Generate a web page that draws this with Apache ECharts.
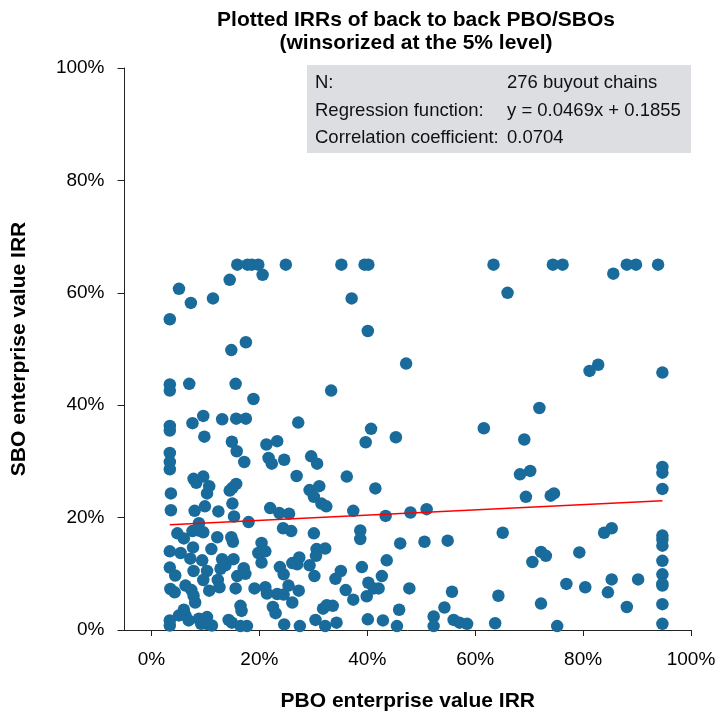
<!DOCTYPE html>
<html>
<head>
<meta charset="utf-8">
<script src="https://cdn.jsdelivr.net/npm/echarts@6/dist/echarts.min.js"></script>
<style>
html,body{margin:0;padding:0;background:#fff;}
#chart{width:720px;height:717px;}
</style>
</head>
<body>
<div id="chart"></div>
<script>
// PBO enterprise value IRR (%), x values
const pboIrr = [
  15.9,17.8,18.6,19.8,24.9,20.6,14.5,5.1,7.3,11.4,
  3.4,17.5,14.8,3.4,3.4,7.0,15.6,35.2,39.5,40.2,
  63.4,66.0,37.1,40.1,47.2,33.3,40.7,39.7,45.3,61.6,
  36.2,41.5,37.4,43.4,48.0,51.0,74.4,76.2,88.1,89.8,
  93.9,85.6,82.8,81.2,94.7,71.9,69.1,68.3,70.2,94.7,
  94.7,94.7,69.4,74.0,74.6,
  18.9,9.6,7.6,13.1,15.7,17.5,27.2,3.4,3.4,9.8,
  14.9,15.8,17.2,21.3,23.3,21.7,22.3,24.6,29.6,30.7,
  3.4,3.4,3.4,26.9,7.8,8.3,9.6,10.7,10.3,15.7,
  15.0,14.5,29.3,31.1,30.1,3.6,3.6,8.0,9.9,12.4,
  15.0,15.3,22.0,23.7,25.5,31.5,32.4,
  18.0,8.8,4.8,6.0,7.6,8.8,9.6,12.2,14.8,15.1,
  24.4,25.9,30.1,3.4,5.4,7.7,11.1,20.4,19.8,21.1,
  20.4,30.6,32.2,30.5,7.2,9.4,13.1,15.2,3.4,4.4,
  7.8,10.3,9.6,12.8,13.7,17.1,17.4,15.9,12.3,12.6,
  23.8,24.5,26.1,27.4,27.0,29.3,30.2,3.5,
  4.3,6.3,7.4,7.8,8.1,10.7,15.6,19.1,21.1,21.4,
  23.3,24.5,25.4,27.3,26.1,16.5,16.7,22.5,23.0,6.0,
  5.1,6.3,6.9,3.4,3.4,8.8,9.2,10.3,10.2,11.2,
  14.3,14.9,16.5,17.7,24.6,27.5,30.4,31.8,32.5,32.2,
  38.7,38.7,46.1,50.6,54.9,65.1,43.6,39.0,35.1,34.1,
  42.7,40.2,41.2,42.1,36.0,37.4,39.9,47.8,55.7,64.3,
  33.6,45.9,54.3,34.3,40.1,42.9,45.5,52.3,52.3,56.0,
  57.1,58.5,63.7,
  83.9,85.3,94.7,94.7,94.7,72.2,73.1,70.6,79.3,94.7,
  85.3,90.2,94.7,94.7,76.9,80.4,84.6,72.2,88.1,94.7,
  75.2,94.7,94.7
];
// SBO enterprise value IRR (%), y values
const sboIrr = [
  65,65,65,65,65,63.2,62.3,60.7,58.2,59.0,
  55.3,51.2,49.8,43.7,42.6,43.8,43.8,65,65,65,
  65,60.0,59.0,53.2,47.4,42.6,35.8,33.4,34.3,35.9,
  27.3,25.2,21.2,20.3,20.9,21.5,65,65,65,65,
  65,63.4,47.2,46.1,45.8,39.5,33.9,27.7,28.3,29.0,
  28.0,25.1,23.7,23.9,24.3,
  41.1,38.1,36.8,37.5,37.6,37.6,36.9,36.3,35.5,34.4,
  33.5,31.8,29.9,33.0,33.6,30.6,29.6,30.3,30.9,29.6,
  31.5,29.9,28.6,27.4,26.9,26.2,27.3,25.6,24.3,26.0,
  25.3,24.8,24.9,25.6,23.7,24.3,21.3,21.2,22.0,21.1,
  22.5,20.2,21.7,20.8,20.7,22.5,22.0,
  19.2,19.0,17.2,16.3,17.6,17.7,17.4,16.5,16.5,15.7,
  18.1,17.6,17.2,14.0,13.7,14.7,14.4,15.5,13.7,14.0,
  12.0,14.4,14.5,13.2,12.7,12.4,12.6,12.6,11.1,9.7,
  10.5,10.5,8.9,10.9,11.5,11.0,10.0,9.6,8.9,7.6,
  11.2,9.9,11.9,12.9,11.7,11.5,9.6,7.3,
  6.7,7.9,7.1,6.1,4.9,7.0,7.4,7.4,7.6,6.5,
  6.4,6.3,7.9,7.0,4.9,4.3,3.4,4.1,3.0,3.6,
  2.6,2.6,1.7,1.7,0.8,2.0,1.1,2.3,1.1,0.8,
  1.8,1.3,0.7,0.7,1.0,0.7,1.8,3.8,4.4,0.7,
  17.7,16.2,15.4,15.7,15.9,17.3,12.4,11.2,10.5,9.1,
  9.6,8.4,7.4,7.4,7.1,5.4,6.0,7.4,6.8,6.1,
  4.3,3.6,4.0,1.3,1.9,1.7,0.7,2.4,0.7,1.8,
  1.3,1.1,1.2,
  17.3,18.1,16.8,16.1,15.0,13.9,13.2,12.1,13.8,12.3,
  9.0,9.0,9.9,8.2,8.2,7.6,6.7,4.7,4.1,4.6,
  0.7,1.1,7.9
];
const xTicks = [0, 20, 40, 60, 80, 100];
const yTicks = [0, 20, 40, 60, 80, 100];
const regSlope = 0.0469;
const regIntercept = 0.1855;
const statLabels = ['N:', 'Regression function:', 'Correlation coefficient:'];
const statValues = ['276 buyout chains', 'y = 0.0469x + 0.1855', '0.0704'];
const titleLines = ['Plotted IRRs of back to back PBO/SBOs', '(winsorized at the 5% level)'];

const FONT = '"Liberation Sans", Arial, Helvetica, sans-serif';
const points = pboIrr.map((x, i) => [x, sboIrr[i]]);
const xMin = Math.min(...pboIrr), xMax = Math.max(...pboIrr);
const regY = x => (regSlope * x / 100 + regIntercept) * 100;
const regLine = [[xMin, regY(xMin)], [xMax, regY(xMax)]];

const boxX = 307, boxY = 65, boxW = 384, boxH = 88;
const statGraphics = [{
  type: 'rect', shape: {x: boxX, y: boxY, width: boxW, height: boxH},
  style: {fill: '#dddee2'}, z: 1
}];
statLabels.forEach((t, i) => {
  const cy = boxY + 18 + i * 27.5;
  statGraphics.push({type: 'text', x: boxX + 8, y: cy, z: 2,
    style: {text: t, font: '18.5px ' + FONT, fill: '#111', textVerticalAlign: 'middle'}});
  statGraphics.push({type: 'text', x: boxX + 200, y: cy, z: 2,
    style: {text: statValues[i], font: '18.5px ' + FONT, fill: '#111', textVerticalAlign: 'middle'}});
});

const chart = echarts.init(document.getElementById('chart'), null, {renderer: 'canvas'});
chart.setOption({
  animation: false,
  backgroundColor: '#fff',
  title: {
    text: titleLines.join('\n'),
    left: 411, top: 4, textAlign: 'center',
    textStyle: {fontFamily: FONT, fontSize: 21, fontWeight: 'bold', color: '#000', lineHeight: 23}
  },
  grid: {left: 124.5, right: 29, top: 68, bottom: 82.5, containLabel: false},
  xAxis: {
    type: 'value', min: -5, max: 100,
    name: 'PBO enterprise value IRR', nameLocation: 'middle', nameGap: 61,
    nameTextStyle: {fontFamily: FONT, fontSize: 21, fontWeight: 'bold', color: '#000'},
    axisLine: {show: true, onZero: false, lineStyle: {color: '#222', width: 1}},
    axisTick: {show: true, inside: false, length: 6, customValues: xTicks, lineStyle: {color: '#222'}},
    axisLabel: {customValues: xTicks, formatter: '{value}%', fontFamily: FONT, fontSize: 19, color: '#000', margin: 20},
    splitLine: {show: false}
  },
  yAxis: {
    type: 'value', min: 0, max: 100, interval: 20,
    name: 'SBO enterprise value IRR', nameLocation: 'middle', nameGap: 95,
    nameTextStyle: {fontFamily: FONT, fontSize: 21, fontWeight: 'bold', color: '#000'},
    axisLine: {show: true, onZero: false, lineStyle: {color: '#222', width: 1}},
    axisTick: {show: true, inside: false, length: 7, customValues: yTicks, lineStyle: {color: '#222'}},
    axisLabel: {customValues: yTicks, formatter: '{value}%', fontFamily: FONT, fontSize: 19, color: '#000', margin: 20},
    splitLine: {show: false}
  },
  graphic: statGraphics,
  series: [
    {
      type: 'scatter', data: points, symbol: 'circle', symbolSize: 12.5, clip: false,
      itemStyle: {color: '#196b9c', opacity: 1}, z: 3
    },
    {
      type: 'line', data: regLine, symbol: 'none', clip: false,
      lineStyle: {color: '#ff0000', width: 1.5}, z: 4
    }
  ]
});
</script>
</body>
</html>
